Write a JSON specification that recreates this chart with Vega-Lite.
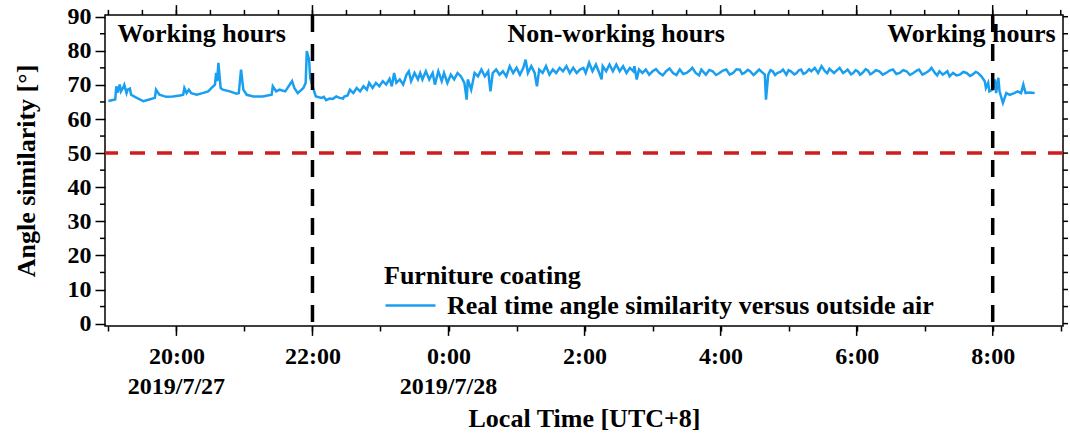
{
  "$schema": "https://vega.github.io/schema/vega-lite/v6.json",
  "width": 958,
  "height": 311,
  "autosize": {"type": "none"},
  "padding": {"left": 105, "top": 15, "right": 7, "bottom": 115},
  "background": "white",
  "config": {
    "view": {"stroke": "black", "strokeWidth": 1.5},
    "font": "Liberation Serif",
    "axis": {
      "labelFont": "Liberation Serif", "labelFontSize": 24, "labelFontWeight": "bold", "labelColor": "black",
      "titleFont": "Liberation Serif", "titleFontSize": 26, "titleFontWeight": "bold", "titleColor": "black",
      "tickColor": "black", "tickWidth": 1.5, "domain": false, "grid": false, "labelOverlap": false
    },
    "axisY": {"labelSeparation": -20, "labelOverlap": false, "tickCount": 10}
  },
  "datasets": {
    "series": [
      {"t": "2019-07-27T19:00", "v": 65.3}, {"t": "2019-07-27T19:06", "v": 65.7}, {"t": "2019-07-27T19:07", "v": 69.6},
      {"t": "2019-07-27T19:08", "v": 67.7}, {"t": "2019-07-27T19:10", "v": 70.1}, {"t": "2019-07-27T19:11", "v": 68.1},
      {"t": "2019-07-27T19:13", "v": 69.2}, {"t": "2019-07-27T19:14", "v": 70.0}, {"t": "2019-07-27T19:16", "v": 67.6},
      {"t": "2019-07-27T19:17", "v": 68.6}, {"t": "2019-07-27T19:19", "v": 68.9}, {"t": "2019-07-27T19:20", "v": 67.1},
      {"t": "2019-07-27T19:25", "v": 66.2}, {"t": "2019-07-27T19:31", "v": 65.2}, {"t": "2019-07-27T19:36", "v": 65.7},
      {"t": "2019-07-27T19:41", "v": 66.2}, {"t": "2019-07-27T19:42", "v": 68.6}, {"t": "2019-07-27T19:45", "v": 67.1},
      {"t": "2019-07-27T19:51", "v": 66.5}, {"t": "2019-07-27T19:57", "v": 66.6}, {"t": "2019-07-27T20:03", "v": 66.9},
      {"t": "2019-07-27T20:06", "v": 67.1}, {"t": "2019-07-27T20:07", "v": 69.1}, {"t": "2019-07-27T20:09", "v": 67.6},
      {"t": "2019-07-27T20:11", "v": 68.6}, {"t": "2019-07-27T20:13", "v": 67.6}, {"t": "2019-07-27T20:18", "v": 67.1},
      {"t": "2019-07-27T20:23", "v": 67.6}, {"t": "2019-07-27T20:28", "v": 68.1}, {"t": "2019-07-27T20:31", "v": 69.1},
      {"t": "2019-07-27T20:34", "v": 70.1}, {"t": "2019-07-27T20:35", "v": 73.5}, {"t": "2019-07-27T20:36", "v": 71.1},
      {"t": "2019-07-27T20:37", "v": 76.5}, {"t": "2019-07-27T20:39", "v": 69.1}, {"t": "2019-07-27T20:41", "v": 68.6},
      {"t": "2019-07-27T20:47", "v": 68.1}, {"t": "2019-07-27T20:53", "v": 67.4}, {"t": "2019-07-27T20:55", "v": 67.6},
      {"t": "2019-07-27T20:57", "v": 74.5}, {"t": "2019-07-27T20:59", "v": 68.6}, {"t": "2019-07-27T21:02", "v": 67.1},
      {"t": "2019-07-27T21:08", "v": 66.6}, {"t": "2019-07-27T21:16", "v": 66.6}, {"t": "2019-07-27T21:24", "v": 67.1},
      {"t": "2019-07-27T21:25", "v": 69.6}, {"t": "2019-07-27T21:28", "v": 68.1}, {"t": "2019-07-27T21:31", "v": 68.6},
      {"t": "2019-07-27T21:36", "v": 68.1}, {"t": "2019-07-27T21:40", "v": 70.1}, {"t": "2019-07-27T21:42", "v": 71.1},
      {"t": "2019-07-27T21:44", "v": 69.1}, {"t": "2019-07-27T21:47", "v": 67.6}, {"t": "2019-07-27T21:52", "v": 69.1},
      {"t": "2019-07-27T21:54", "v": 70.6}, {"t": "2019-07-27T21:55", "v": 79.9}, {"t": "2019-07-27T21:57", "v": 77.4},
      {"t": "2019-07-27T21:58", "v": 72.1}, {"t": "2019-07-27T22:01", "v": 68.6}, {"t": "2019-07-27T22:03", "v": 66.6},
      {"t": "2019-07-27T22:08", "v": 66.2}, {"t": "2019-07-27T22:10", "v": 66.5}, {"t": "2019-07-27T22:12", "v": 65.5},
      {"t": "2019-07-27T22:15", "v": 66.0}, {"t": "2019-07-27T22:18", "v": 65.9}, {"t": "2019-07-27T22:21", "v": 66.6},
      {"t": "2019-07-27T22:24", "v": 66.2}, {"t": "2019-07-27T22:27", "v": 66.0}, {"t": "2019-07-27T22:28", "v": 66.6},
      {"t": "2019-07-27T22:31", "v": 66.9}, {"t": "2019-07-27T22:33", "v": 68.6}, {"t": "2019-07-27T22:36", "v": 67.6},
      {"t": "2019-07-27T22:39", "v": 69.1}, {"t": "2019-07-27T22:42", "v": 68.1}, {"t": "2019-07-27T22:45", "v": 69.6},
      {"t": "2019-07-27T22:48", "v": 68.6}, {"t": "2019-07-27T22:50", "v": 70.6}, {"t": "2019-07-27T22:53", "v": 69.1},
      {"t": "2019-07-27T22:56", "v": 70.6}, {"t": "2019-07-27T22:59", "v": 69.6}, {"t": "2019-07-27T23:02", "v": 71.1},
      {"t": "2019-07-27T23:05", "v": 70.1}, {"t": "2019-07-27T23:08", "v": 71.8}, {"t": "2019-07-27T23:10", "v": 69.6},
      {"t": "2019-07-27T23:12", "v": 73.5}, {"t": "2019-07-27T23:14", "v": 70.6}, {"t": "2019-07-27T23:17", "v": 71.6},
      {"t": "2019-07-27T23:20", "v": 70.1}, {"t": "2019-07-27T23:23", "v": 73.0}, {"t": "2019-07-27T23:25", "v": 74.0},
      {"t": "2019-07-27T23:27", "v": 71.1}, {"t": "2019-07-27T23:30", "v": 73.5}, {"t": "2019-07-27T23:33", "v": 71.6},
      {"t": "2019-07-27T23:35", "v": 73.5}, {"t": "2019-07-27T23:37", "v": 71.6}, {"t": "2019-07-27T23:40", "v": 74.0},
      {"t": "2019-07-27T23:43", "v": 71.6}, {"t": "2019-07-27T23:46", "v": 73.5}, {"t": "2019-07-27T23:48", "v": 70.1},
      {"t": "2019-07-27T23:51", "v": 74.0}, {"t": "2019-07-27T23:54", "v": 71.1}, {"t": "2019-07-27T23:56", "v": 73.5},
      {"t": "2019-07-27T23:59", "v": 70.6}, {"t": "2019-07-28T00:02", "v": 73.0}, {"t": "2019-07-28T00:05", "v": 71.6},
      {"t": "2019-07-28T00:08", "v": 73.5}, {"t": "2019-07-28T00:11", "v": 72.5}, {"t": "2019-07-28T00:14", "v": 70.6},
      {"t": "2019-07-28T00:16", "v": 65.7}, {"t": "2019-07-28T00:17", "v": 71.6}, {"t": "2019-07-28T00:20", "v": 68.6},
      {"t": "2019-07-28T00:23", "v": 73.5}, {"t": "2019-07-28T00:26", "v": 72.5}, {"t": "2019-07-28T00:29", "v": 74.5},
      {"t": "2019-07-28T00:32", "v": 72.5}, {"t": "2019-07-28T00:35", "v": 74.0}, {"t": "2019-07-28T00:37", "v": 68.1},
      {"t": "2019-07-28T00:39", "v": 73.5}, {"t": "2019-07-28T00:42", "v": 74.5}, {"t": "2019-07-28T00:45", "v": 73.0},
      {"t": "2019-07-28T00:48", "v": 74.0}, {"t": "2019-07-28T00:51", "v": 72.5}, {"t": "2019-07-28T00:54", "v": 75.5},
      {"t": "2019-07-28T00:57", "v": 73.5}, {"t": "2019-07-28T01:00", "v": 75.0}, {"t": "2019-07-28T01:03", "v": 73.0},
      {"t": "2019-07-28T01:06", "v": 75.0}, {"t": "2019-07-28T01:08", "v": 77.4}, {"t": "2019-07-28T01:10", "v": 73.5},
      {"t": "2019-07-28T01:13", "v": 75.5}, {"t": "2019-07-28T01:16", "v": 73.5}, {"t": "2019-07-28T01:18", "v": 69.6},
      {"t": "2019-07-28T01:20", "v": 74.5}, {"t": "2019-07-28T01:23", "v": 73.5}, {"t": "2019-07-28T01:26", "v": 75.5},
      {"t": "2019-07-28T01:29", "v": 73.0}, {"t": "2019-07-28T01:32", "v": 74.5}, {"t": "2019-07-28T01:35", "v": 73.5},
      {"t": "2019-07-28T01:38", "v": 75.0}, {"t": "2019-07-28T01:41", "v": 74.0}, {"t": "2019-07-28T01:44", "v": 75.5},
      {"t": "2019-07-28T01:47", "v": 73.5}, {"t": "2019-07-28T01:50", "v": 75.0}, {"t": "2019-07-28T01:53", "v": 73.5},
      {"t": "2019-07-28T01:56", "v": 74.5}, {"t": "2019-07-28T01:59", "v": 75.0}, {"t": "2019-07-28T02:01", "v": 73.5},
      {"t": "2019-07-28T02:04", "v": 76.5}, {"t": "2019-07-28T02:07", "v": 74.0}, {"t": "2019-07-28T02:10", "v": 76.0},
      {"t": "2019-07-28T02:13", "v": 73.5}, {"t": "2019-07-28T02:15", "v": 71.6}, {"t": "2019-07-28T02:16", "v": 75.5},
      {"t": "2019-07-28T02:19", "v": 74.0}, {"t": "2019-07-28T02:22", "v": 76.0}, {"t": "2019-07-28T02:25", "v": 74.0},
      {"t": "2019-07-28T02:28", "v": 76.0}, {"t": "2019-07-28T02:31", "v": 74.0}, {"t": "2019-07-28T02:34", "v": 75.5},
      {"t": "2019-07-28T02:37", "v": 73.5}, {"t": "2019-07-28T02:40", "v": 75.0}, {"t": "2019-07-28T02:43", "v": 74.0},
      {"t": "2019-07-28T02:44", "v": 75.5}, {"t": "2019-07-28T02:46", "v": 71.6}, {"t": "2019-07-28T02:48", "v": 74.5},
      {"t": "2019-07-28T02:51", "v": 73.5}, {"t": "2019-07-28T02:54", "v": 74.5}, {"t": "2019-07-28T02:57", "v": 73.0},
      {"t": "2019-07-28T03:00", "v": 74.0}, {"t": "2019-07-28T03:03", "v": 74.6}, {"t": "2019-07-28T03:06", "v": 73.5},
      {"t": "2019-07-28T03:09", "v": 72.8}, {"t": "2019-07-28T03:12", "v": 74.0}, {"t": "2019-07-28T03:15", "v": 74.8},
      {"t": "2019-07-28T03:18", "v": 73.5}, {"t": "2019-07-28T03:21", "v": 72.9}, {"t": "2019-07-28T03:24", "v": 74.5},
      {"t": "2019-07-28T03:27", "v": 73.2}, {"t": "2019-07-28T03:30", "v": 73.5}, {"t": "2019-07-28T03:33", "v": 74.3},
      {"t": "2019-07-28T03:35", "v": 75.0}, {"t": "2019-07-28T03:38", "v": 73.5}, {"t": "2019-07-28T03:41", "v": 72.8},
      {"t": "2019-07-28T03:43", "v": 74.5}, {"t": "2019-07-28T03:47", "v": 73.0}, {"t": "2019-07-28T03:50", "v": 74.4},
      {"t": "2019-07-28T03:53", "v": 74.0}, {"t": "2019-07-28T03:56", "v": 72.9}, {"t": "2019-07-28T03:59", "v": 73.5},
      {"t": "2019-07-28T04:02", "v": 74.2}, {"t": "2019-07-28T04:05", "v": 74.5}, {"t": "2019-07-28T04:08", "v": 73.0},
      {"t": "2019-07-28T04:11", "v": 73.5}, {"t": "2019-07-28T04:14", "v": 74.6}, {"t": "2019-07-28T04:17", "v": 74.5},
      {"t": "2019-07-28T04:19", "v": 73.2}, {"t": "2019-07-28T04:21", "v": 73.5}, {"t": "2019-07-28T04:24", "v": 74.4},
      {"t": "2019-07-28T04:26", "v": 74.0}, {"t": "2019-07-28T04:29", "v": 72.9}, {"t": "2019-07-28T04:31", "v": 73.5},
      {"t": "2019-07-28T04:34", "v": 74.5}, {"t": "2019-07-28T04:37", "v": 73.6}, {"t": "2019-07-28T04:39", "v": 73.0},
      {"t": "2019-07-28T04:40", "v": 65.7}, {"t": "2019-07-28T04:42", "v": 73.0}, {"t": "2019-07-28T04:44", "v": 74.3},
      {"t": "2019-07-28T04:46", "v": 74.0}, {"t": "2019-07-28T04:48", "v": 72.9}, {"t": "2019-07-28T04:50", "v": 73.5},
      {"t": "2019-07-28T04:53", "v": 73.9}, {"t": "2019-07-28T04:55", "v": 74.5}, {"t": "2019-07-28T04:58", "v": 73.0},
      {"t": "2019-07-28T05:00", "v": 74.3}, {"t": "2019-07-28T05:02", "v": 74.0}, {"t": "2019-07-28T05:05", "v": 73.1},
      {"t": "2019-07-28T05:07", "v": 73.5}, {"t": "2019-07-28T05:09", "v": 74.3}, {"t": "2019-07-28T05:11", "v": 74.5},
      {"t": "2019-07-28T05:13", "v": 73.2}, {"t": "2019-07-28T05:15", "v": 73.5}, {"t": "2019-07-28T05:18", "v": 74.6},
      {"t": "2019-07-28T05:20", "v": 74.0}, {"t": "2019-07-28T05:23", "v": 75.0}, {"t": "2019-07-28T05:26", "v": 73.5},
      {"t": "2019-07-28T05:29", "v": 75.5}, {"t": "2019-07-28T05:32", "v": 74.0}, {"t": "2019-07-28T05:34", "v": 73.4},
      {"t": "2019-07-28T05:36", "v": 74.7}, {"t": "2019-07-28T05:40", "v": 73.5}, {"t": "2019-07-28T05:43", "v": 74.4},
      {"t": "2019-07-28T05:45", "v": 75.0}, {"t": "2019-07-28T05:48", "v": 73.5}, {"t": "2019-07-28T05:50", "v": 73.9},
      {"t": "2019-07-28T05:52", "v": 74.5}, {"t": "2019-07-28T05:55", "v": 73.1}, {"t": "2019-07-28T05:57", "v": 73.5},
      {"t": "2019-07-28T05:59", "v": 74.3}, {"t": "2019-07-28T06:01", "v": 74.0}, {"t": "2019-07-28T06:03", "v": 73.0},
      {"t": "2019-07-28T06:05", "v": 73.5}, {"t": "2019-07-28T06:08", "v": 74.6}, {"t": "2019-07-28T06:10", "v": 74.2},
      {"t": "2019-07-28T06:12", "v": 73.1}, {"t": "2019-07-28T06:14", "v": 73.5}, {"t": "2019-07-28T06:17", "v": 74.3},
      {"t": "2019-07-28T06:20", "v": 74.0}, {"t": "2019-07-28T06:23", "v": 73.0}, {"t": "2019-07-28T06:26", "v": 73.5},
      {"t": "2019-07-28T06:29", "v": 74.2}, {"t": "2019-07-28T06:32", "v": 74.5}, {"t": "2019-07-28T06:35", "v": 73.2},
      {"t": "2019-07-28T06:38", "v": 73.5}, {"t": "2019-07-28T06:41", "v": 74.3}, {"t": "2019-07-28T06:44", "v": 74.0},
      {"t": "2019-07-28T06:47", "v": 72.9}, {"t": "2019-07-28T06:50", "v": 73.5}, {"t": "2019-07-28T06:53", "v": 74.2},
      {"t": "2019-07-28T06:55", "v": 74.5}, {"t": "2019-07-28T06:58", "v": 73.0}, {"t": "2019-07-28T07:01", "v": 73.5},
      {"t": "2019-07-28T07:04", "v": 74.2}, {"t": "2019-07-28T07:06", "v": 75.0}, {"t": "2019-07-28T07:09", "v": 73.5},
      {"t": "2019-07-28T07:11", "v": 72.8}, {"t": "2019-07-28T07:13", "v": 74.0}, {"t": "2019-07-28T07:16", "v": 73.0},
      {"t": "2019-07-28T07:18", "v": 73.5}, {"t": "2019-07-28T07:20", "v": 74.0}, {"t": "2019-07-28T07:22", "v": 72.5},
      {"t": "2019-07-28T07:25", "v": 73.5}, {"t": "2019-07-28T07:28", "v": 72.8}, {"t": "2019-07-28T07:31", "v": 73.0},
      {"t": "2019-07-28T07:34", "v": 73.8}, {"t": "2019-07-28T07:37", "v": 73.5}, {"t": "2019-07-28T07:40", "v": 72.6},
      {"t": "2019-07-28T07:42", "v": 73.0}, {"t": "2019-07-28T07:45", "v": 73.8}, {"t": "2019-07-28T07:47", "v": 73.5},
      {"t": "2019-07-28T07:50", "v": 72.5}, {"t": "2019-07-28T07:53", "v": 71.1}, {"t": "2019-07-28T07:54", "v": 69.1},
      {"t": "2019-07-28T07:56", "v": 70.6}, {"t": "2019-07-28T07:57", "v": 68.1}, {"t": "2019-07-28T08:00", "v": 68.6},
      {"t": "2019-07-28T08:02", "v": 71.6}, {"t": "2019-07-28T08:03", "v": 67.6}, {"t": "2019-07-28T08:05", "v": 72.1},
      {"t": "2019-07-28T08:06", "v": 68.1}, {"t": "2019-07-28T08:09", "v": 64.7}, {"t": "2019-07-28T08:12", "v": 67.6},
      {"t": "2019-07-28T08:15", "v": 67.1}, {"t": "2019-07-28T08:19", "v": 67.6}, {"t": "2019-07-28T08:22", "v": 68.1},
      {"t": "2019-07-28T08:25", "v": 67.6}, {"t": "2019-07-28T08:27", "v": 70.1}, {"t": "2019-07-28T08:29", "v": 67.6},
      {"t": "2019-07-28T08:32", "v": 67.8}, {"t": "2019-07-28T08:37", "v": 67.6}
    ],
    "periods": [
      {"t": "2019-07-27T22:00"},
      {"t": "2019-07-28T08:00"}
    ],
    "threshold": [
      {"v": 50}
    ],
    "labels": [
      {"t": "2019-07-27T19:08", "v": 82.5, "label": "Working hours"},
      {"t": "2019-07-28T00:52", "v": 82.5, "label": "Non-working hours"},
      {"t": "2019-07-28T06:27", "v": 82.5, "label": "Working hours"}
    ],
    "dates": [
      {"t": "2019-07-27T20:00", "v": -20.5, "label": "2019/7/27"},
      {"t": "2019-07-28T00:00", "v": -20.5, "label": "2019/7/28"}
    ],
    "xticks": [
      {"t": "2019-07-27T19:00"}, {"t": "2019-07-27T19:30"}, {"t": "2019-07-27T20:00"}, {"t": "2019-07-27T20:30"},
      {"t": "2019-07-27T21:00"}, {"t": "2019-07-27T21:30"}, {"t": "2019-07-27T22:00"}, {"t": "2019-07-27T22:30"},
      {"t": "2019-07-27T23:00"}, {"t": "2019-07-27T23:30"}, {"t": "2019-07-28T00:00"}, {"t": "2019-07-28T00:30"},
      {"t": "2019-07-28T01:00"}, {"t": "2019-07-28T01:30"}, {"t": "2019-07-28T02:00"}, {"t": "2019-07-28T02:30"},
      {"t": "2019-07-28T03:00"}, {"t": "2019-07-28T03:30"}, {"t": "2019-07-28T04:00"}, {"t": "2019-07-28T04:30"},
      {"t": "2019-07-28T05:00"}, {"t": "2019-07-28T05:30"}, {"t": "2019-07-28T06:00"}, {"t": "2019-07-28T06:30"},
      {"t": "2019-07-28T07:00"}, {"t": "2019-07-28T07:30"}, {"t": "2019-07-28T08:00"}, {"t": "2019-07-28T08:30"},
      {"t": "2019-07-28T09:00"}
    ],
    "xmajor": [
      {"t": "2019-07-27T20:00"}, {"t": "2019-07-27T22:00"}, {"t": "2019-07-28T00:00"}, {"t": "2019-07-28T02:00"},
      {"t": "2019-07-28T04:00"}, {"t": "2019-07-28T06:00"}, {"t": "2019-07-28T08:00"}
    ],
    "yticks": [
      {"v": 0}, {"v": 5}, {"v": 10}, {"v": 15}, {"v": 20}, {"v": 25}, {"v": 30}, {"v": 35}, {"v": 40}, {"v": 45},
      {"v": 50}, {"v": 55}, {"v": 60}, {"v": 65}, {"v": 70}, {"v": 75}, {"v": 80}, {"v": 85}, {"v": 90}
    ]
  },
  "layer": [
    {
      "data": {"name": "series"},
      "mark": {"type": "line", "strokeWidth": 2.5},
      "encoding": {
        "x": {
          "field": "t", "type": "temporal",
          "scale": {"domain": ["2019-07-27T18:57", "2019-07-28T09:02"], "nice": false},
          "axis": {
            "format": "%-H:%M",
            "values": [
              "2019-07-27T19:00", "2019-07-27T19:30", "2019-07-27T20:00", "2019-07-27T20:30", "2019-07-27T21:00", "2019-07-27T21:30",
              "2019-07-27T22:00", "2019-07-27T22:30", "2019-07-27T23:00", "2019-07-27T23:30", "2019-07-28T00:00", "2019-07-28T00:30",
              "2019-07-28T01:00", "2019-07-28T01:30", "2019-07-28T02:00", "2019-07-28T02:30", "2019-07-28T03:00", "2019-07-28T03:30",
              "2019-07-28T04:00", "2019-07-28T04:30", "2019-07-28T05:00", "2019-07-28T05:30", "2019-07-28T06:00", "2019-07-28T06:30",
              "2019-07-28T07:00", "2019-07-28T07:30", "2019-07-28T08:00", "2019-07-28T08:30", "2019-07-28T09:00"
            ],
            "labelExpr": "minutes(datum.value) == 0 && hours(datum.value) % 2 == 0 ? datum.label : ''",
            "labelOverlap": false, "labelFlush": false,
            "tickSize": 5, "labelPadding": 13,
            "title": "Local Time [UTC+8]", "titlePadding": 37
          }
        },
        "y": {
          "field": "v", "type": "quantitative",
          "scale": {"domain": [-0.7, 90.5], "nice": false, "zero": false},
          "axis": {
            "values": [0, 10, 20, 30, 40, 50, 60, 70, 80, 90],
            "tickCount": 10,
            "labelOverlap": false, "labelSeparation": -20,
            "tickSize": 10, "labelPadding": 4,
            "title": "Angle similarity [°]", "titlePadding": 28
          }
        },
        "color": {
          "datum": "Real time angle similarity versus outside air", "type": "nominal",
          "scale": {"range": ["#1a9ff0"]},
          "legend": {
            "orient": "none", "legendX": 279, "legendY": 248,
            "title": "Furniture coating", "titleFontSize": 26, "titleFontWeight": "bold", "titleColor": "black", "titleLimit": 0,
            "titlePadding": -10,
            "labelFontSize": 26, "labelFontWeight": "bold", "labelColor": "black", "labelLimit": 0,
            "symbolType": "stroke", "symbolSize": 2500, "symbolStrokeWidth": 2.5, "labelOffset": 10, "padding": 0
          }
        }
      }
    },
    {
      "data": {"name": "periods"},
      "mark": {"type": "rule", "color": "black", "strokeWidth": 3.5, "strokeDash": [17, 12]},
      "encoding": {
        "x": {"field": "t", "type": "temporal"}
      }
    },
    {
      "data": {"name": "threshold"},
      "mark": {"type": "rule", "color": "#d01c1c", "strokeWidth": 3.5, "strokeDash": [15, 12]},
      "encoding": {
        "y": {"field": "v", "type": "quantitative"}
      }
    },
    {
      "data": {"name": "xticks"},
      "mark": {"type": "rule", "color": "black", "strokeWidth": 1.5},
      "encoding": {
        "x": {"field": "t", "type": "temporal"},
        "y": {"datum": 90.5},
        "y2": {"datum": 92.0}
      }
    },
    {
      "data": {"name": "xmajor"},
      "mark": {"type": "rule", "color": "black", "strokeWidth": 1.5},
      "encoding": {
        "x": {"field": "t", "type": "temporal"},
        "y": {"datum": 90.5},
        "y2": {"datum": 93.4}
      }
    },
    {
      "data": {"name": "xmajor"},
      "mark": {"type": "rule", "color": "black", "strokeWidth": 1.5},
      "encoding": {
        "x": {"field": "t", "type": "temporal"},
        "y": {"datum": -0.7},
        "y2": {"datum": -3.6}
      }
    },
    {
      "data": {"name": "yticks"},
      "mark": {"type": "rule", "color": "black", "strokeWidth": 1.5},
      "encoding": {
        "y": {"field": "v", "type": "quantitative"},
        "x": {"datum": {"year": 2019, "month": 7, "date": 28, "hours": 9, "minutes": 2}},
        "x2": {"datum": {"year": 2019, "month": 7, "date": 28, "hours": 9, "minutes": 6, "seconds": 24}}
      }
    },
    {
      "data": {"name": "yticks"},
      "transform": [{"filter": "datum.v % 10 != 0"}],
      "mark": {"type": "rule", "color": "black", "strokeWidth": 1.5},
      "encoding": {
        "y": {"field": "v", "type": "quantitative"},
        "x": {"datum": {"year": 2019, "month": 7, "date": 27, "hours": 18, "minutes": 57}},
        "x2": {"datum": {"year": 2019, "month": 7, "date": 27, "hours": 18, "minutes": 52, "seconds": 36}}
      }
    },
    {
      "data": {"name": "labels"},
      "mark": {"type": "text", "align": "left", "baseline": "alphabetic", "fontSize": 26, "fontWeight": "bold", "color": "black"},
      "encoding": {
        "x": {"field": "t", "type": "temporal"},
        "y": {"field": "v", "type": "quantitative"},
        "text": {"field": "label"}
      }
    },
    {
      "data": {"name": "dates"},
      "mark": {"type": "text", "align": "center", "baseline": "alphabetic", "fontSize": 24, "fontWeight": "bold", "color": "black"},
      "encoding": {
        "x": {"field": "t", "type": "temporal"},
        "y": {"field": "v", "type": "quantitative"},
        "text": {"field": "label"}
      }
    }
  ]
}
